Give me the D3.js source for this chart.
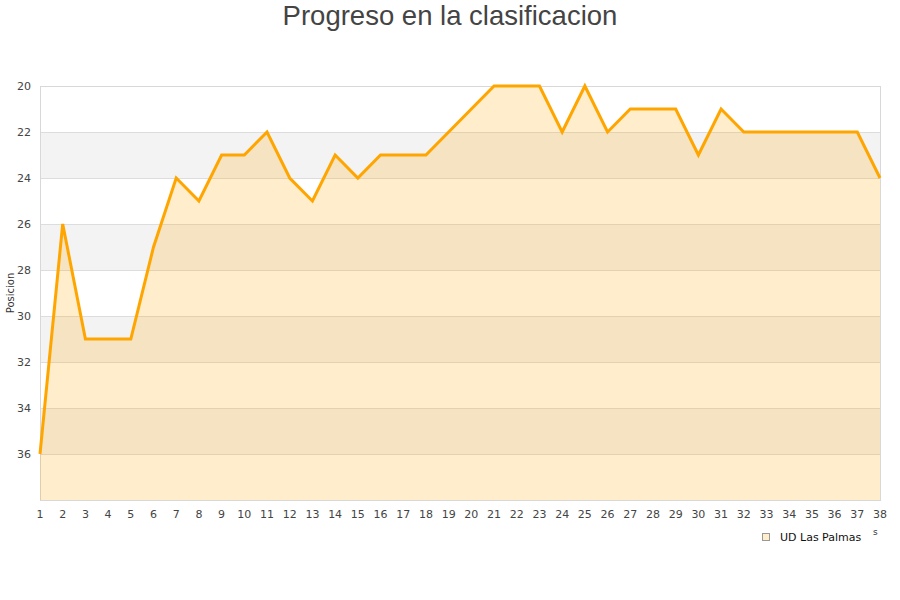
<!DOCTYPE html>
<html><head><meta charset="utf-8">
<script src="https://cdn.jsdelivr.net/npm/d3@7"></script>
<style>body{margin:0;background:#fff;} svg{display:block;}</style>
</head><body>
<svg id="chart" width="900" height="600"></svg>
<script>
const jornadas = d3.range(1, 39);
const posiciones = [36,26,31,31,31,27,24,25,23,23,22,24,25,23,24,23,23,23,22,21,20,20,20,22,20,22,21,21,21,23,21,22,22,22,22,22,22,24];
const yTicks = [20,22,24,26,28,30,32,34,36];
const bands = [[22,24],[26,28],[30,32],[34,36]];
const serieNombre = "UD Las Palmas";

const svg = d3.select("#chart");
const x = d3.scaleLinear().domain([1,38]).range([40,880]);
const y = d3.scaleLinear().domain([20,38]).range([86,500]);

svg.append("g").selectAll("rect").data(bands).join("rect")
  .attr("x", x(1)).attr("width", x(38)-x(1))
  .attr("y", d=>y(d[0])).attr("height", d=>y(d[1])-y(d[0]))
  .attr("fill", "#f3f3f3");

svg.append("g").selectAll("line").data(yTicks).join("line")
  .attr("x1", x(1)).attr("x2", x(38))
  .attr("y1", d=>y(d)+0.5).attr("y2", d=>y(d)+0.5)
  .attr("stroke", "#dddddd").attr("stroke-width", 1);

svg.append("rect").attr("x", x(1)+0.5).attr("y", y(20)+0.5)
  .attr("width", x(38)-x(1)).attr("height", y(38)-y(20))
  .attr("fill","none").attr("stroke","#d8d8d8");

const pts = jornadas.map((j,i)=>[j, posiciones[i]]);
svg.append("path").datum(pts)
  .attr("d", d3.area().x(d=>x(d[0])).y0(y(38)).y1(d=>y(d[1])))
  .attr("fill", "#ffa500").attr("fill-opacity", 0.2);
svg.append("path").datum(pts)
  .attr("d", d3.line().x(d=>x(d[0])).y(d=>y(d[1])))
  .attr("fill", "none").attr("stroke", "#ffa500").attr("stroke-width", 3)
  .attr("stroke-linejoin", "miter");

svg.append("g").selectAll("text").data(jornadas).join("text")
  .attr("x", d=>x(d)).attr("y", 518)
  .attr("text-anchor","middle")
  .attr("font-family","DejaVu Sans, sans-serif").attr("font-size", 11)
  .attr("fill","#444").text(d=>d);

svg.append("g").selectAll("text").data(yTicks).join("text")
  .attr("x", 31).attr("y", d=>y(d)+4)
  .attr("text-anchor","end")
  .attr("font-family","DejaVu Sans, sans-serif").attr("font-size", 11)
  .attr("fill","#444").text(d=>d);

svg.append("text").attr("transform","translate(14,293) rotate(-90)")
  .attr("text-anchor","middle")
  .attr("font-family","DejaVu Sans, sans-serif").attr("font-size", 10)
  .attr("fill","#333").text("Posicion");

svg.append("text").attr("x", 450).attr("y", 25)
  .attr("text-anchor","middle")
  .attr("font-family","Liberation Sans, Arial, sans-serif").attr("font-size", 27.5)
  .attr("fill","#444").text("Progreso en la clasificacion");

svg.append("rect").attr("x", 762.5).attr("y", 533.5).attr("width", 7).attr("height", 7)
  .attr("fill","#ffedcc").attr("stroke","#999");
svg.append("text").attr("x", 780).attr("y", 541)
  .attr("font-family","DejaVu Sans, sans-serif").attr("font-size", 11)
  .attr("fill","#111").text(serieNombre);
svg.append("text").attr("x", 873).attr("y", 535)
  .attr("font-family","DejaVu Sans, sans-serif").attr("font-size", 9)
  .attr("fill","#333").text("s");
</script>
</body></html>
